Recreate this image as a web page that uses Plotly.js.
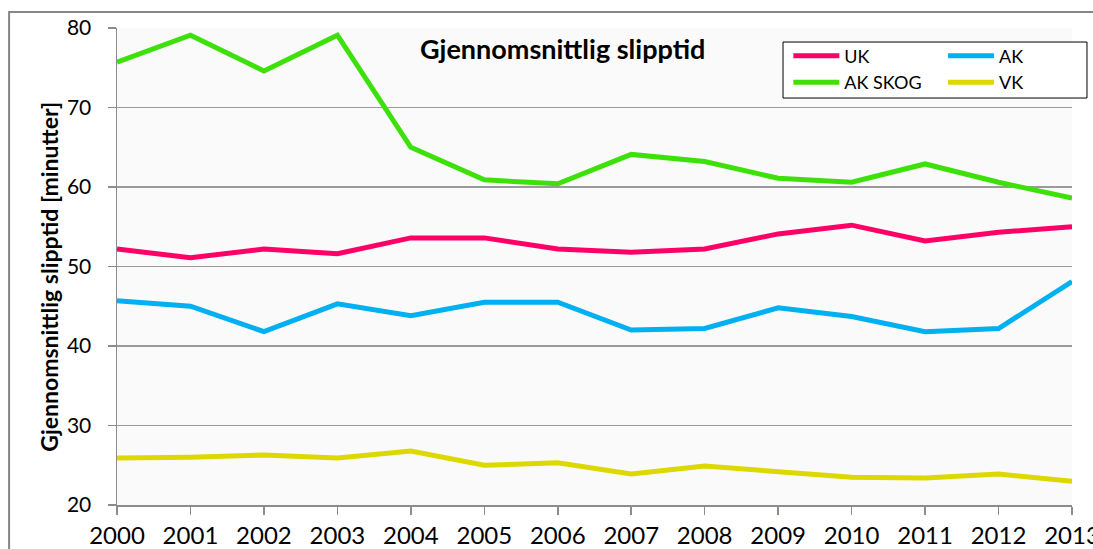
<!DOCTYPE html>
<html>
<head>
<meta charset="utf-8">
<script src="https://cdn.plot.ly/plotly-3.0.1.min.js"></script>
<style>
  html, body { margin: 0; padding: 0; background: #fff; }
  #plot { width: 1093px; height: 549px; }
</style>
</head>
<body>
<div id="plot"></div>
<script>
// Gjennomsnittlig slipptid per år (minutter)
const years = [2000, 2001, 2002, 2003, 2004, 2005, 2006, 2007, 2008, 2009, 2010, 2011, 2012, 2013];
const ukValues = [52.2, 51.1, 52.2, 51.6, 53.6, 53.6, 52.2, 51.8, 52.2, 54.1, 55.2, 53.2, 54.3, 55.0];
const akValues = [45.7, 45.0, 41.8, 45.3, 43.8, 45.5, 45.5, 42.0, 42.2, 44.8, 43.7, 41.8, 42.2, 48.1];
const akSkogValues = [75.7, 79.1, 74.6, 79.1, 65.0, 60.9, 60.4, 64.1, 63.2, 61.1, 60.6, 62.9, 60.6, 58.6];
const vkValues = [25.9, 26.0, 26.3, 25.9, 26.8, 25.0, 25.3, 23.9, 24.9, 24.2, 23.5, 23.4, 23.9, 23.0];

const FONT = 'Lato, "Open Sans", sans-serif';

function line(name, values, color, legend) {
    return {
        x: years,
        y: values,
        type: 'scatter',
        mode: 'lines',
        name: name,
        legend: legend,
        line: { color: color, width: 5 }
    };
}

const traces = [
    line('UK', ukValues, '#ff0066', 'legend'),
    line('AK', akValues, '#00b0f0', 'legend2'),
    line('AK SKOG', akSkogValues, '#3ee00a', 'legend'),
    line('VK', vkValues, '#dcd800', 'legend2')
];

const legendStyle = {
    bgcolor: 'rgba(0,0,0,0)',
    borderwidth: 0,
    font: { family: FONT, size: 18, color: '#000' },
    yanchor: 'top',
    y: 0.98,
    tracegroupgap: 0,
    itemwidth: 46
};

const layout = {
    width: 1093,
    height: 549,
    margin: { l: 117, r: 21, t: 28, b: 44 },
    paper_bgcolor: '#ffffff',
    plot_bgcolor: '#fafafa',
    font: { family: FONT, color: '#000' },
    showlegend: true,
    legend: Object.assign({}, legendStyle, { x: 0.703, xanchor: 'left' }),
    legend2: Object.assign({}, legendStyle, { x: 0.865, xanchor: 'left' }),
    xaxis: {
        range: [2000, 2013],
        tickvals: years,
        ticktext: years.map(String),
        ticks: 'outside',
        ticklen: 8,
        tickcolor: '#8c8c8c',
        tickwidth: 1.5,
        ticklabeloverflow: 'allow',
        ticklabelstandoff: 1,
        showline: true,
        linecolor: '#8c8c8c',
        linewidth: 1.5,
        showgrid: false,
        zeroline: false,
        tickfont: { family: FONT, size: 24, color: '#000' }
    },
    yaxis: {
        range: [20, 80],
        dtick: 10,
        ticks: 'outside',
        ticklen: 8,
        tickcolor: '#8c8c8c',
        tickwidth: 1.5,
        ticklabelstandoff: 12,
        showline: true,
        linecolor: '#8c8c8c',
        linewidth: 1.5,
        gridcolor: '#9a9a9a',
        gridwidth: 1.5,
        zeroline: false,
        tickfont: { family: FONT, size: 21, color: '#000' }
    },
    annotations: [
        {
            text: '<b>Gjennomsnittlig slipptid</b>',
            xref: 'paper', yref: 'paper',
            x: 0.467, y: 0.958,
            xanchor: 'center', yanchor: 'middle',
            showarrow: false,
            font: { family: FONT, size: 27, color: '#000' }
        },
        {
            text: '<b>Gjennomsnittlig slipptid [minutter]</b>',
            xref: 'paper', yref: 'paper',
            x: -0.072, y: 0.479,
            xanchor: 'center', yanchor: 'middle',
            textangle: -90,
            showarrow: false,
            font: { family: FONT, size: 23, color: '#000' }
        }
    ],
    shapes: [
        // outer chart frame
        {
            type: 'rect', xref: 'paper', yref: 'paper',
            x0: -0.113, x1: 1.2, y0: -0.3, y1: 1.0335,
            line: { color: '#868686', width: 2 },
            layer: 'below'
        },
        // legend box
        {
            type: 'rect', xref: 'paper', yref: 'paper',
            x0: 0.6974, x1: 1.0157, y0: 0.8532, y1: 0.9706,
            fillcolor: '#ffffff',
            line: { color: '#000', width: 1 },
            layer: 'above'
        }
    ]
};

Plotly.newPlot('plot', traces, layout, { displayModeBar: false, staticPlot: true });
</script>
</body>
</html>
